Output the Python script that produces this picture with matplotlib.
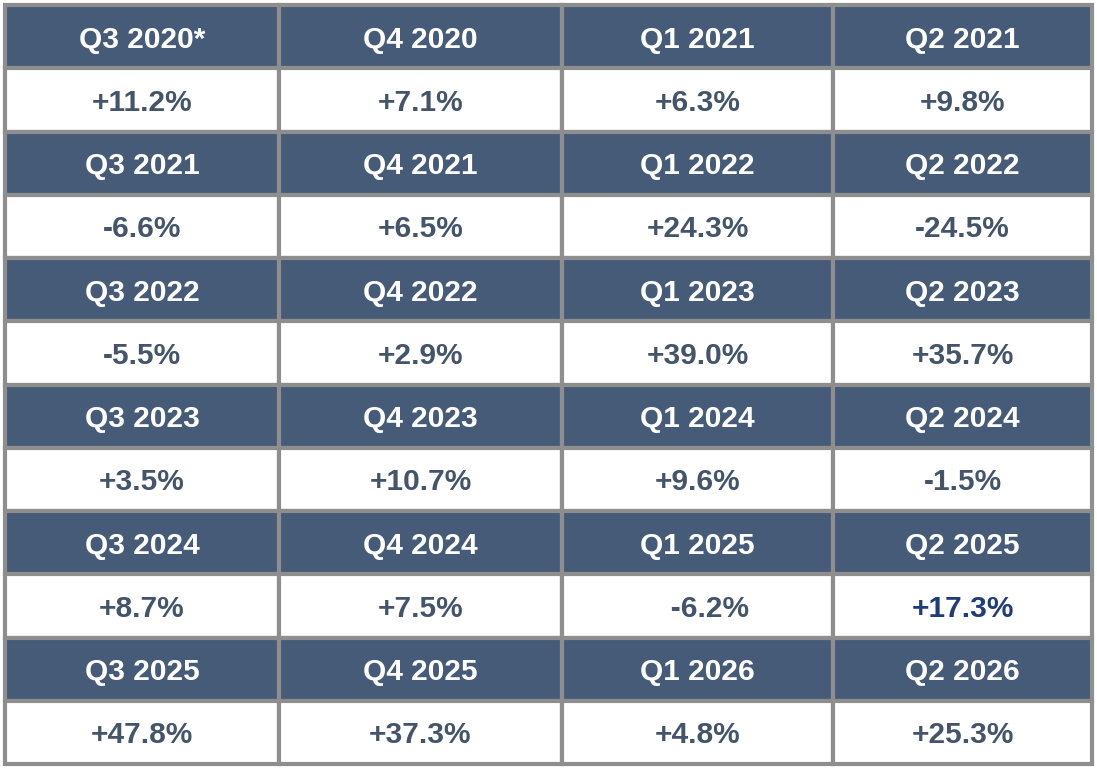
import matplotlib
matplotlib.use("Agg")
import matplotlib.pyplot as plt
from matplotlib.patches import Rectangle

quarters = ["Q3 2020*", "Q4 2020", "Q1 2021", "Q2 2021",
            "Q3 2021", "Q4 2021", "Q1 2022", "Q2 2022",
            "Q3 2022", "Q4 2022", "Q1 2023", "Q2 2023",
            "Q3 2023", "Q4 2023", "Q1 2024", "Q2 2024",
            "Q3 2024", "Q4 2024", "Q1 2025", "Q2 2025",
            "Q3 2025", "Q4 2025", "Q1 2026", "Q2 2026"]
changes = ["+11.2%", "+7.1%", "+6.3%", "+9.8%",
           "-6.6%", "+6.5%", "+24.3%", "-24.5%",
           "-5.5%", "+2.9%", "+39.0%", "+35.7%",
           "+3.5%", "+10.7%", "+9.6%", "-1.5%",
           "+8.7%", "+7.5%", "   -6.2%", "+17.3%",
           "+47.8%", "+37.3%", "+4.8%", "+25.3%"]
highlight = {"+17.3%"}

W, H = 1097, 769
col_edges = [5, 279, 562, 833, 1092]
top, bottom = 5, 764
n_rows = 12
row_h = (bottom - top) / n_rows

HEAD = "#465b78"
TXT = "#44546a"
BORDER = "#8e8e8e"

fig = plt.figure(figsize=(W / 100, H / 100), dpi=100)
ax = fig.add_axes([0, 0, 1, 1])
ax.set_xlim(0, W)
ax.set_ylim(H, 0)
ax.axis("off")
ax.add_patch(Rectangle((0, 0), W, H, color="white"))

for i, (q, c) in enumerate(zip(quarters, changes)):
    r, col = divmod(i, 4)
    x0, x1 = col_edges[col], col_edges[col + 1]
    for k, (txt, fill, fc) in enumerate([(q, HEAD, "white"),
                                         (c, "white", "#1f3d7a" if c in highlight else TXT)]):
        y0 = top + (2 * r + k) * row_h
        ax.add_patch(Rectangle((x0, y0), x1 - x0, row_h, facecolor=fill,
                               edgecolor=BORDER, linewidth=3))
        ax.text((x0 + x1) / 2, y0 + row_h / 2 + 3, txt, ha="center", va="center",
                color=fc, fontsize=21.5, fontweight="bold", family="Liberation Sans")

fig.savefig("out.png", dpi=100)
